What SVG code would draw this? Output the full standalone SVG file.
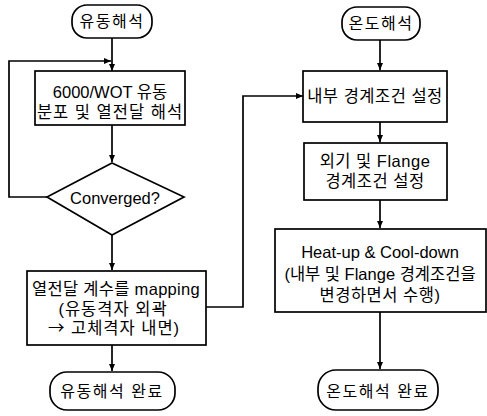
<svg xmlns="http://www.w3.org/2000/svg" width="487" height="416" viewBox="0 0 487 416">
<defs>
<marker id="ah" markerWidth="8" markerHeight="8" refX="7" refY="4" orient="auto" markerUnits="userSpaceOnUse">
<path d="M0,1 L7,4 L0,7 Z" fill="#000"/>
</marker>
<style>
.s{fill:#fff;stroke:#000;stroke-width:1.7}
.c{fill:none;stroke:#000;stroke-width:1.7}
text{font-family:"Liberation Sans","Noto Sans CJK KR",sans-serif;font-size:16.5px;fill:#000;text-anchor:middle}
.t{font-size:16px}
.k{font-family:"Noto Sans CJK KR",sans-serif}
</style>
</defs>
<rect width="487" height="416" fill="#fff"/>
<g id="connectors">
<path class="c" d="M112,38 V71" marker-end="url(#ah)"/>
<path class="c" d="M112,125 V162" marker-end="url(#ah)"/>
<path class="c" d="M112,235 V270" marker-end="url(#ah)"/>
<path class="c" d="M112,345 V371" marker-end="url(#ah)"/>
<path class="c" d="M47,197 H9 V61 H111" marker-end="url(#ah)"/>
<path class="c" d="M206,307 H243 V96 H303" marker-end="url(#ah)"/>
<path class="c" d="M380,40 V70" marker-end="url(#ah)"/>
<path class="c" d="M380,122 V142" marker-end="url(#ah)"/>
<path class="c" d="M380,200 V228" marker-end="url(#ah)"/>
<path class="c" d="M380,312 V369" marker-end="url(#ah)"/>
</g>
<g id="start_flow">
<rect class="s" x="72" y="5" width="80" height="33" rx="15"/>
<text class="t" x="112" y="27" letter-spacing="1.5">유동해석</text>
</g>
<g id="flow_analysis">
<rect class="s" x="35" y="71" width="150" height="54"/>
<text x="110" y="98">6000/WOT 유동</text>
<text x="110" y="118" letter-spacing="1">분포 및 열전달 해석</text>
</g>
<g id="converged">
<path class="s" d="M112,163 L184,197 L112,235 L47,197 Z"/>
<text x="115" y="204">Converged?</text>
</g>
<g id="mapping">
<rect class="s" x="27" y="271" width="179" height="74"/>
<text x="116" y="295" letter-spacing="0.3">열전달 계수를 mapping</text>
<text x="113" y="315" letter-spacing="1">(유동격자 외곽</text>
<text x="114" y="334" letter-spacing="1"><tspan class="k">→</tspan> 고체격자 내면)</text>
</g>
<g id="end_flow">
<rect class="s" x="50" y="372" width="125" height="38" rx="17"/>
<text class="t" x="112" y="397" letter-spacing="1.5">유동해석 완료</text>
</g>
<g id="start_temp">
<rect class="s" x="342" y="7" width="78" height="33" rx="15"/>
<text class="t" x="381" y="29" letter-spacing="1.5">온도해석</text>
</g>
<g id="inner_bc">
<rect class="s" x="303" y="71" width="144" height="51"/>
<text x="375" y="102" letter-spacing="0.5">내부 경계조건 설정</text>
</g>
<g id="outer_bc">
<rect class="s" x="304" y="143" width="143" height="57"/>
<text x="375" y="167" letter-spacing="0.5">외기 및 Flange</text>
<text x="375" y="187" letter-spacing="0.5">경계조건 설정</text>
</g>
<g id="heatup">
<rect class="s" x="275" y="229" width="211" height="83"/>
<text x="380" y="258">Heat-up &amp; Cool-down</text>
<text x="380" y="280">(내부 및 Flange 경계조건을</text>
<text x="380" y="301" letter-spacing="0.5">변경하면서 수행)</text>
</g>
<g id="end_temp">
<rect class="s" x="318" y="370" width="120" height="40" rx="18"/>
<text class="t" x="378" y="397" letter-spacing="1.5">온도해석 완료</text>
</g>
</svg>
